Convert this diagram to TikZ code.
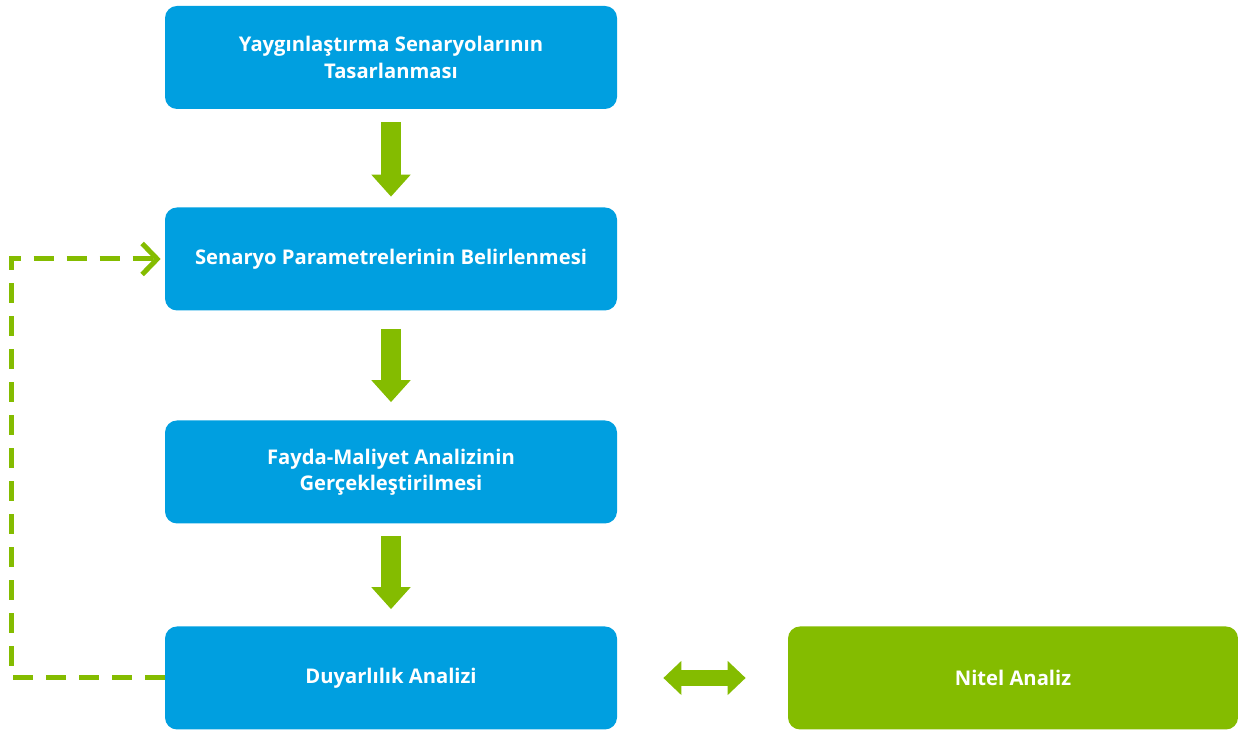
\documentclass[tikz,border=0pt]{standalone}
\usepackage{fontspec}
\setmainfont{Open Sans}
\usepackage{tikz}
\usepackage{xcolor}
\usetikzlibrary{arrows.meta,positioning}
\definecolor{boxblue}{RGB}{0,159,224}
\definecolor{stepgreen}{RGB}{132,188,0}

\tikzset{
    stage/.style={fill=boxblue, text=white, rounded corners=0.24cm, align=center,
        minimum width=9.04cm, minimum height=2.06cm, font=\bfseries\fontsize{11.5}{15}\selectfont},
    flow/.style={stepgreen, line width=0.4cm, -{Triangle[width=0.76cm,length=0.44cm]}},
    both/.style={stepgreen, line width=0.32cm, {Triangle[width=0.66cm,length=0.36cm]}-{Triangle[width=0.66cm,length=0.36cm]}},
    loopback/.style={stepgreen, line width=0.1cm, dash pattern=on 0.4cm off 0.26cm,
        -{Straight Barb[width=0.62cm,length=0.3cm,line width=0.1cm]}}
}

\begin{document}
\begin{tikzpicture}
    \useasboundingbox (0,0) rectangle (24.76,14.62);

    % Main chain of stages
    \node[stage] (design) at (7.82,13.47) {Yaygınlaştırma Senaryolarının\\Tasarlanması};
    \node[stage] (params) at (7.82,9.44) {Senaryo Parametrelerinin Belirlenmesi};
    \node[stage] (cba) at (7.82,5.18) {Fayda-Maliyet Analizinin\\Gerçekleştirilmesi};
    \node[stage] (sens) at (7.82,1.06) {Duyarlılık Analizi};

    % Side box
    \node[stage, fill=stepgreen, minimum width=9cm] (qual) at (20.26,1.06) {Nitel Analiz};

    % Block arrows between stages
    \draw[flow, shorten <=0.26cm, shorten >=0.21cm] (design) -- (params);
    \draw[flow, shorten <=0.36cm, shorten >=0.36cm] (params) -- (cba);
    \draw[flow, shorten <=0.24cm, shorten >=0.34cm] (cba) -- (sens);

    % Two-way link
    \draw[both] ([xshift=0.92cm]sens.east) -- ([xshift=-0.84cm]qual.west);

    % Feedback loop
    \draw[loopback] (sens.west) -- ++(-3.06,0) |- ([xshift=-0.08cm]params.west);
\end{tikzpicture}
\end{document}
